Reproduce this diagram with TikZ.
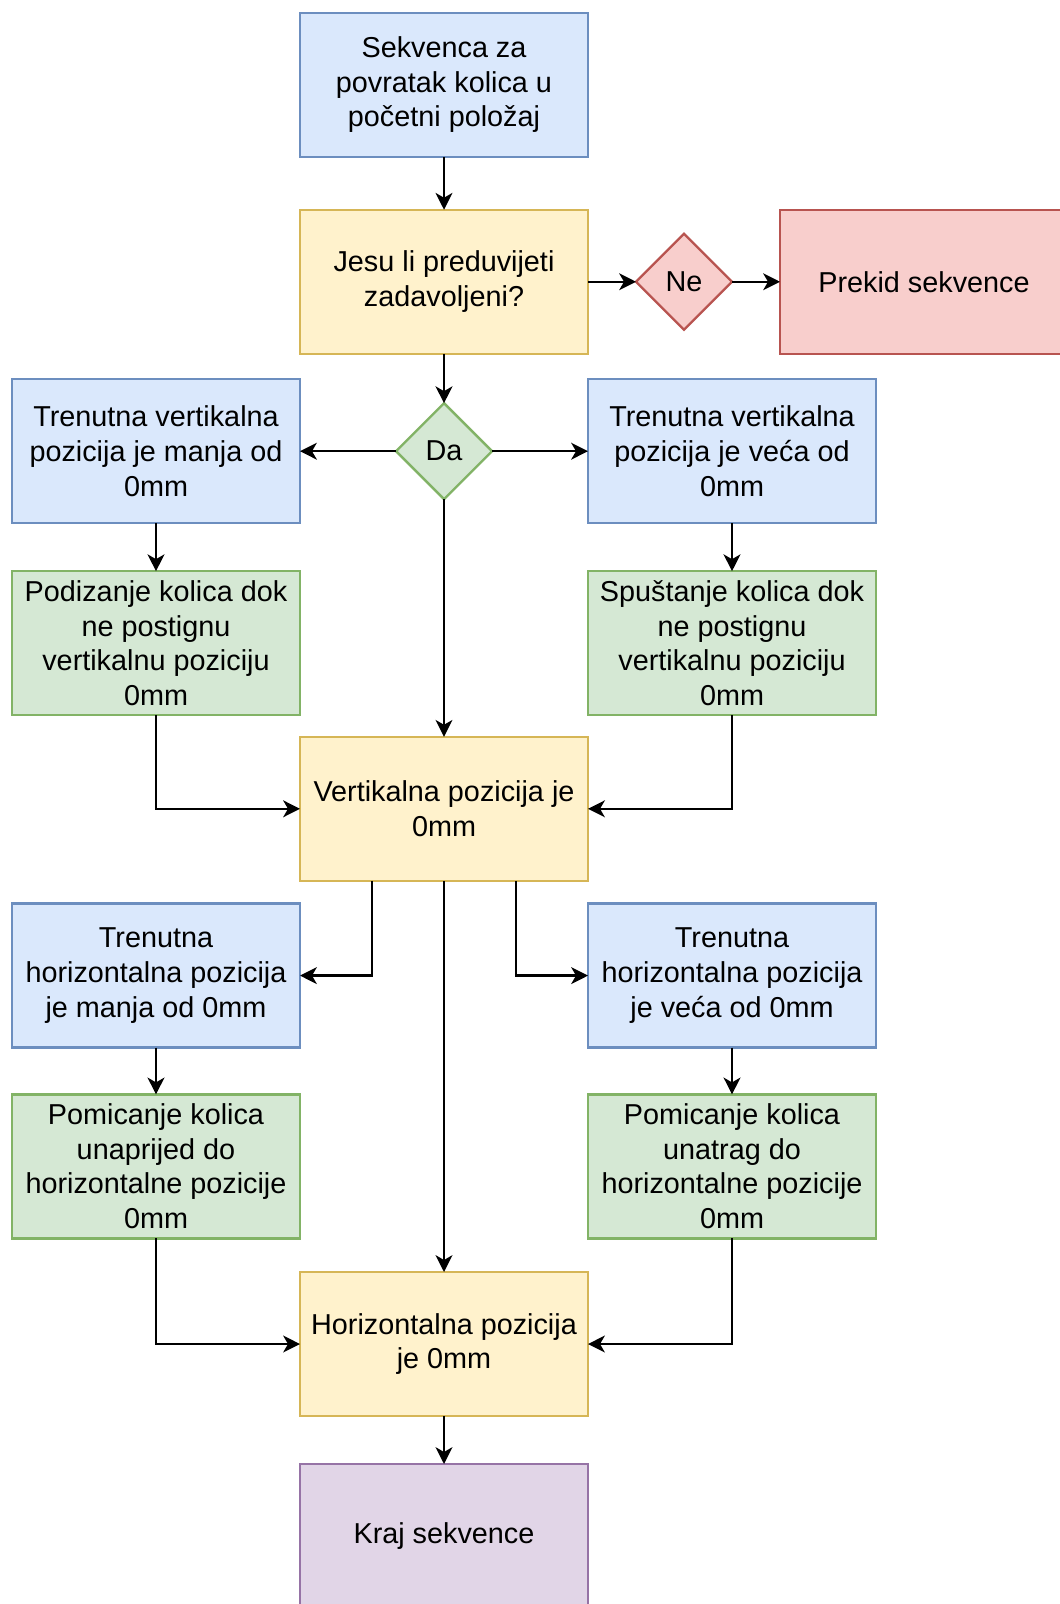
\documentclass[tikz,border=0pt]{standalone}
\usepackage{fontspec}
\setmainfont{Liberation Sans}
\usepackage{xcolor}
\usepackage{tikz}
\usetikzlibrary{arrows.meta, positioning, shapes.geometric}
\definecolor{bluefill}{HTML}{DAE8FC}
\definecolor{bluedraw}{HTML}{6C8EBF}
\definecolor{yellowfill}{HTML}{FFF2CC}
\definecolor{yellowdraw}{HTML}{D6B656}
\definecolor{greenfill}{HTML}{D5E8D4}
\definecolor{greendraw}{HTML}{82B366}
\definecolor{redfill}{HTML}{F8CECC}
\definecolor{reddraw}{HTML}{B85450}
\definecolor{purplefill}{HTML}{E1D5E7}
\definecolor{purpledraw}{HTML}{9673A6}

\begin{document}
\begin{tikzpicture}[
  x=1pt, y=-1pt,
  box/.style={rectangle, line width=1pt, minimum width=120pt, minimum height=60pt,
              inner sep=2pt, outer sep=0pt, font=\fontsize{12}{14.4}\selectfont, align=center},
  info/.style={box, draw=bluedraw, fill=bluefill},
  action/.style={box, draw=greendraw, fill=greenfill},
  check/.style={box, draw=yellowdraw, fill=yellowfill},
  stopbox/.style={box, draw=reddraw, fill=redfill},
  endbox/.style={box, draw=purpledraw, fill=purplefill},
  choice/.style={diamond, line width=1pt, minimum width=40pt, minimum height=40pt,
                 inner sep=0pt, outer sep=0pt, font=\fontsize{12}{14.4}\selectfont},
  arr/.style={-{Stealth[length=7pt, width=7pt, inset=2pt]}, line width=1pt}
]
  \useasboundingbox (0,0) rectangle (441.25,668.33);

  \node[info] (start) at (185,35.4) {Sekvenca za\\povratak kolica u\\početni položaj};
  \node[check, below=22pt of start] (cond) {Jesu li preduvijeti\\zadavoljeni?};
  \node[choice, draw=reddraw, fill=redfill, right=20pt of cond] (ne) {Ne};
  \node[stopbox, right=20pt of ne] (abort) {Prekid sekvence};
  \node[choice, draw=greendraw, fill=greenfill, below=20.6pt of cond] (da) {Da};

  % vertikalna os
  \node[info, left=40pt of da] (vlow) {Trenutna vertikalna\\pozicija je manja od\\0mm};
  \node[info, right=40pt of da] (vhigh) {Trenutna vertikalna\\pozicija je veća od\\0mm};
  \node[action, below=20pt of vlow] (lift) {Podizanje kolica dok\\ne postignu\\vertikalnu poziciju\\0mm};
  \node[action, below=20pt of vhigh] (lower) {Spuštanje kolica dok\\ne postignu\\vertikalnu poziciju\\0mm};
  \node[check, below=99pt of da] (vzero) {Vertikalna pozicija je\\0mm};

  % horizontalna os
  \node[info, below left=9.5pt and 0pt of vzero] (hlow) {Trenutna\\horizontalna pozicija\\je manja od 0mm};
  \node[info, below right=9.5pt and 0pt of vzero] (hhigh) {Trenutna\\horizontalna pozicija\\je veća od 0mm};
  \node[action, below=19.5pt of hlow] (fwd) {Pomicanje kolica\\unaprijed do\\horizontalne pozicije\\0mm};
  \node[action, below=19.5pt of hhigh] (back) {Pomicanje kolica\\unatrag do\\horizontalne pozicije\\0mm};
  \node[check, below=163pt of vzero] (hzero) {Horizontalna pozicija\\je 0mm};
  \node[endbox, below=20pt of hzero] (finish) {Kraj sekvence};

  \draw[arr] (start) -- (cond);
  \draw[arr] (cond) -- (ne);
  \draw[arr] (ne) -- (abort);
  \draw[arr] (cond) -- (da);
  \draw[arr] (da) -- (vlow);
  \draw[arr] (da) -- (vhigh);
  \draw[arr] (vlow) -- (lift);
  \draw[arr] (vhigh) -- (lower);
  \draw[arr] (da) -- (vzero);
  \draw[arr] (lift) |- (vzero);
  \draw[arr] (lower) |- (vzero);
  \draw[arr] ([xshift=-30pt]vzero.south) |- (hlow);
  \draw[arr] ([xshift=30pt]vzero.south) |- (hhigh);
  \draw[arr] (vzero) -- (hzero);
  \draw[arr] (hlow) -- (fwd);
  \draw[arr] (hhigh) -- (back);
  \draw[arr] (fwd) |- (hzero);
  \draw[arr] (back) |- (hzero);
  \draw[arr] (hzero) -- (finish);
\end{tikzpicture}
\end{document}
